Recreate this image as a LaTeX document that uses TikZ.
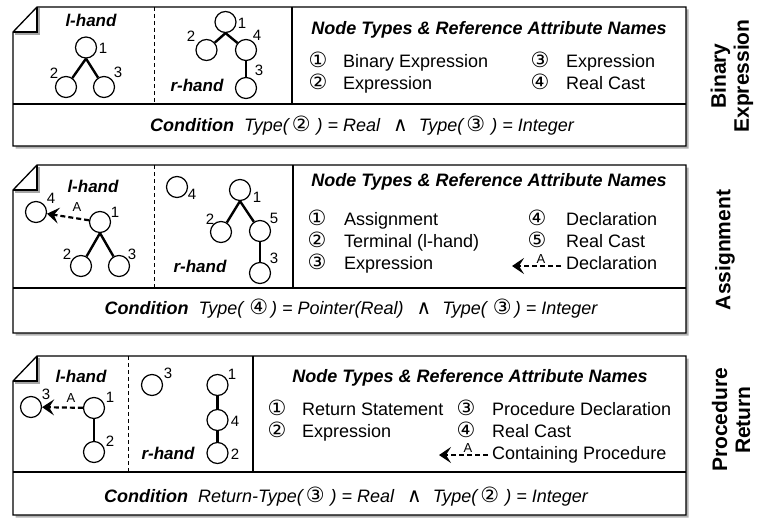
\documentclass[tikz,border=0pt]{standalone}
\usepackage{fontspec}
\setmainfont{Liberation Sans}
\newfontfamily\circfont{DejaVu Sans}
\usetikzlibrary{arrows.meta}
\newcommand\cnum[1]{{\circfont\upshape\fontsize{21}{21}\selectfont #1}}
\newcommand\mywedge{\hspace{13pt}{\circfont\upshape\fontsize{20}{20}\selectfont ∧}\hspace{11pt}}
\newcommand\mypanel[5]{%
  \fill[black!30] (15.5,{#1+27.5}) -- (39.5,{#1+2.5}) -- (688.5,{#1+2.5}) -- (688.5,{#3+2.5}) -- (15.5,{#3+2.5}) -- cycle;
  \filldraw[panel,fill=white] (13,{#1+25}) -- (37,#1) -- (686,#1) -- (686,#3) -- (13,#3) -- cycle;
  \draw[black!35,line width=1.6pt] (14.5,{#1+26.8}) -- (38.8,{#1+26.8}) -- (38.8,{#1+1.5});
  \draw[panel] (13,{#1+25}) -- (37,{#1+25}) -- (37,#1);
  \draw[panel] (13,#2) -- (686,#2);
  \draw[dashline] (#4,#1) -- (#4,#2);
  \draw[panel] (#5,#1) -- (#5,#2);
}
\tikzset{
  panel/.style={line width=1.3pt, draw=black},
  dashline/.style={line width=1pt, dash pattern=on 4pt off 3pt},
  tnode/.style={circle, draw, line width=1.2pt, minimum size=21pt, inner sep=0pt},
  tedge/.style={line width=2.4pt},
  tnum/.style={font=\fontsize{15}{15}\selectfont, inner sep=0pt},
  hand/.style={font=\bfseries\itshape\fontsize{17}{17}\selectfont, inner sep=0pt, anchor=base},
  ttl/.style={font=\bfseries\itshape\fontsize{18}{18}\selectfont, inner sep=0pt, anchor=base},
  item/.style={font=\fontsize{18}{18}\selectfont, inner sep=0pt, anchor=base west},
  circ/.style={font=\circfont\fontsize{21}{21}\selectfont, inner sep=0pt, anchor=base},
  cond/.style={font=\itshape\fontsize{18}{18}\selectfont, inner sep=0pt, anchor=base},
  side/.style={font=\bfseries\fontsize{21}{23}\selectfont, rotate=90, align=center, inner sep=0pt},
  refarrow/.style={line width=2.2pt, dash pattern=on 5pt off 3pt, -{Stealth[length=12pt,width=16pt,inset=5pt]}},
  alab/.style={font=\fontsize{13}{13}\selectfont, inner sep=0pt},
}
\begin{document}
\begin{tikzpicture}[x=1pt,y=-1pt]
\useasboundingbox (0,0) rectangle (762,519);

% ================= Panel 1 =================
\mypanel{7}{104}{146}{154}{292}
\node[hand] (p1lh) at (91,27) {l-hand};
\node[tnode] (p1l1) at (86,47.5) {};
\node[tnode] (p1l2) at (66,87) {};
\node[tnode] (p1l3) at (104,87) {};
\draw[tedge] (p1l1.south) -- (p1l2);
\draw[tedge] (p1l1.south) -- (p1l3);
\node[tnum] (p1l1n) at (103,48) {1};
\node[tnum] (p1l2n) at (54,73) {2};
\node[tnum] (p1l3n) at (118,72) {3};

\node[hand] (p1rh) at (197,91) {r-hand};
\node[tnode] (p1r1) at (225.5,22) {};
\node[tnode] (p1r2) at (206.5,50) {};
\node[tnode] (p1r4) at (246,50) {};
\node[tnode] (p1r3) at (246,88) {};
\draw[tedge] (p1r1.south) -- (p1r2);
\draw[tedge] (p1r1.south) -- (p1r4);
\draw[tedge] (p1r4) -- (p1r3);
\node[tnum] (p1r1n) at (242,23) {1};
\node[tnum] (p1r2n) at (191,36) {2};
\node[tnum] (p1r4n) at (257,35) {4};
\node[tnum] (p1r3n) at (259,70) {3};

\node[ttl] (p1t) at (489,35) {Node Types \& Reference Attribute Names};
\node[circ] (p1c1) at (318,67) {①};
\node[item] (p1i1) at (343,67) {Binary Expression};
\node[circ] (p1c2) at (318,89) {②};
\node[item] (p1i2) at (343,89) {Expression};
\node[circ] (p1c3) at (540,67) {③};
\node[item] (p1i3) at (566,67) {Expression};
\node[circ] (p1c4) at (540,89) {④};
\node[item] (p1i4) at (566,89) {Real Cast};

\node[cond] (p1cond) at (362,131) {\textbf{Condition}\hspace{10pt}Type(\,\cnum{②}\,\,) = Real\mywedge Type(\,\cnum{③}\,\,) = Integer};

\node[side] (p1side) at (732,76) {Binary\\Expression};

% ================= Panel 2 =================
\mypanel{165}{288}{333}{154}{293}
\node[hand] (p2lh) at (93,192) {l-hand};
\node[tnode] (p2l4) at (36,212) {};
\node[tnode] (p2l1) at (100,222) {};
\node[tnode] (p2l2) at (81,266) {};
\node[tnode] (p2l3) at (119,266) {};
\draw[tedge] (p2l1.south) -- (p2l2);
\draw[tedge] (p2l1.south) -- (p2l3);
\draw[refarrow] (p2l1) -- (p2l4);
\node[alab] (p2la) at (77,207) {A};
\node[tnum] (p2l4n) at (51,198) {4};
\node[tnum] (p2l1n) at (115,212) {1};
\node[tnum] (p2l2n) at (67,254) {2};
\node[tnum] (p2l3n) at (132,254) {3};

\node[hand] (p2rh) at (200,272) {r-hand};
\node[tnode] (p2r4) at (177,187) {};
\node[tnode] (p2r1) at (240,190) {};
\node[tnode] (p2r2) at (221,232) {};
\node[tnode] (p2r5) at (260,231) {};
\node[tnode] (p2r3) at (260,273) {};
\draw[tedge] (p2r1.south) -- (p2r2);
\draw[tedge] (p2r1.south) -- (p2r5);
\draw[tedge] (p2r5) -- (p2r3);
\node[tnum] (p2r4n) at (192,194) {4};
\node[tnum] (p2r1n) at (257,197) {1};
\node[tnum] (p2r2n) at (210,219) {2};
\node[tnum] (p2r5n) at (274,218) {5};
\node[tnum] (p2r3n) at (274,258) {3};

\node[ttl] (p2t) at (489,186) {Node Types \& Reference Attribute Names};
\node[circ] (p2c1) at (317,225) {①};
\node[item] (p2i1) at (344,225) {Assignment};
\node[circ] (p2c2) at (317,247) {②};
\node[item] (p2i2) at (344,247) {Terminal (l-hand)};
\node[circ] (p2c3) at (317,269) {③};
\node[item] (p2i3) at (344,269) {Expression};
\node[circ] (p2c4) at (537,225) {④};
\node[item] (p2i4) at (566,225) {Declaration};
\node[circ] (p2c5) at (537,247) {⑤};
\node[item] (p2i5) at (566,247) {Real Cast};
\coordinate (p2ga) at (561,266);
\coordinate (p2gb) at (512,266);
\draw[refarrow] (p2ga) -- (p2gb);
\node[alab] (p2gl) at (541,259) {A};
\node[item] (p2i6) at (566,269) {Declaration};

\node[cond] (p2cond) at (351,314) {\textbf{Condition}\hspace{10pt}Type(\,\,\cnum{④}\,) = Pointer(Real)\mywedge Type(\,\,\cnum{③}\,) = Integer};

\node[side] (p2side) at (725,250) {Assignment};

% ================= Panel 3 =================
\mypanel{356}{472}{515}{128}{253}
\node[hand] (p3lh) at (81,382) {l-hand};
\node[tnode] (p3l3) at (31,407) {};
\node[tnode] (p3l1) at (94,408) {};
\node[tnode] (p3l2) at (94,452) {};
\draw[tedge] (p3l1) -- (p3l2);
\draw[refarrow] (p3l1) -- (p3l3);
\node[alab] (p3la) at (71,398) {A};
\node[tnum] (p3l3n) at (46,394) {3};
\node[tnum] (p3l1n) at (110,397) {1};
\node[tnum] (p3l2n) at (110,441) {2};

\node[hand] (p3rh) at (168,459) {r-hand};
\node[tnode] (p3r3) at (152,385) {};
\node[tnode] (p3r1) at (217.5,385) {};
\node[tnode] (p3r4) at (217.5,420) {};
\node[tnode] (p3r2) at (217.5,453) {};
\draw[tedge] (p3r1) -- (p3r4);
\draw[tedge] (p3r4) -- (p3r2);
\node[tnum] (p3r3n) at (168,373) {3};
\node[tnum] (p3r1n) at (232,374) {1};
\node[tnum] (p3r4n) at (235,421) {4};
\node[tnum] (p3r2n) at (235,454) {2};

\node[ttl] (p3t) at (470,382) {Node Types \& Reference Attribute Names};
\node[circ] (p3c1) at (277,415) {①};
\node[item] (p3i1) at (302,415) {Return Statement};
\node[circ] (p3c2) at (277,437) {②};
\node[item] (p3i2) at (302,437) {Expression};
\node[circ] (p3c3) at (466,415) {③};
\node[item] (p3i3) at (492,415) {Procedure Declaration};
\node[circ] (p3c4) at (466,437) {④};
\node[item] (p3i4) at (492,437) {Real Cast};
\coordinate (p3ga) at (488,455);
\coordinate (p3gb) at (439,455);
\draw[refarrow] (p3ga) -- (p3gb);
\node[alab] (p3gl) at (468,448) {A};
\node[item] (p3i5) at (492,459) {Containing Procedure};

\node[cond] (p3cond) at (346,502) {\textbf{Condition}\hspace{10pt}Return-Type(\,\cnum{③}\,\,) = Real\mywedge Type(\,\cnum{②}\,\,) = Integer};

\node[side] (p3side) at (731,420) {Procedure\\Return};
\end{tikzpicture}
\end{document}
